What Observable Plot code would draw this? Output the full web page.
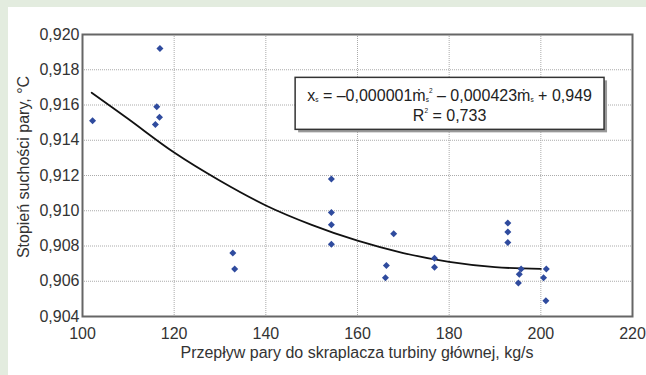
<!DOCTYPE html>
<html><head><meta charset="utf-8">
<script src="https://cdn.jsdelivr.net/npm/d3@7"></script>
<script src="https://cdn.jsdelivr.net/npm/@observablehq/plot@0.6"></script>
<style>
html,body{margin:0;padding:0;background:#e3ecdf;}
#wrap{position:absolute;left:8px;top:7px;width:638px;height:368px;background:#fff;}
svg text{font-family:"Liberation Sans",Arial,sans-serif;}
</style></head>
<body><div id="wrap"></div>
<script>
// Measured points
const flowX = [102.2,116.9,116.2,116.8,115.9,132.8,133.2,154.3,154.3,154.3,154.3,167.9,166.3,166.1,176.8,176.8,192.8,192.8,192.8,195.7,195.3,195.1,201.2,200.6,201.1];
const dryness = [0.9151,0.9192,0.9159,0.9153,0.9149,0.9076,0.9067,0.9118,0.9099,0.9092,0.9081,0.9087,0.9069,0.9062,0.9073,0.9068,0.9093,0.9088,0.9082,0.9067,0.9064,0.9059,0.9067,0.9062,0.9049];
// Trend curve
const trendX = [102,110,120,130,140,150,160,170,180,190,200];
const trendY = [0.9167,0.9152,0.9133,0.9117,0.9103,0.9092,0.9083,0.9076,0.9071,0.9068,0.9067];
const xTicks = [100,120,140,160,180,200,220];
const yTicks = [0.904,0.906,0.908,0.910,0.912,0.914,0.916,0.918,0.920];
// Annotation box extents (data units)
const boxX = [146.5, 213.9];
const boxY = [0.91459, 0.91754];
const eqLineY = [0.91640, 0.91530];

const pts = flowX.map((x,i)=>({x, y: dryness[i]}));
const trend = trendX.map((x,i)=>({x, y: trendY[i]}));
const fmt = v => d3.format(".3f")(v).replace(".", ",");

const plot = Plot.plot({
  width: 638, height: 368,
  marginLeft: 74, marginRight: 14, marginTop: 27, marginBottom: 59,
  style: {background: "#fff", fontSize: "16px", fontFamily: "Liberation Sans, Arial, sans-serif", color: "#333"},
  x: {domain: [100, 220], ticks: xTicks, label: null},
  y: {domain: [0.904, 0.920], ticks: yTicks, label: null},
  marks: [
    Plot.gridX(xTicks.slice(1,-1), {stroke: "#aaa", strokeOpacity: 1, strokeDasharray: "1,1"}),
    Plot.gridY(yTicks.slice(1,-1), {stroke: "#aaa", strokeOpacity: 1, strokeDasharray: "1,1"}),
    Plot.axisX({ticks: xTicks, tickSize: 0, tickPadding: 11, fill: "#333", fontSize: 16, label: null}),
    Plot.axisY({ticks: yTicks, tickSize: 0, tickPadding: 3, tickFormat: fmt, fill: "#333", fontSize: 16, label: null}),
    Plot.rect([{}], {x1: boxX[0], x2: boxX[1], y1: boxY[0], y2: boxY[1], fill: "#999", dx: 3, dy: 3}),
    Plot.line(trend, {x: "x", y: "y", curve: "catmull-rom", stroke: "#111", strokeWidth: 1.8}),
    Plot.dot(pts, {x: "x", y: "y", symbol: "square", rotate: 45, r: 2.8, fill: "#2f4b9e", stroke: "none"}),
    Plot.rect([{}], {x1: boxX[0], x2: boxX[1], y1: boxY[0], y2: boxY[1], fill: "#fff", stroke: "#333", strokeWidth: 1.5}),
    Plot.frame({stroke: "#666", strokeWidth: 2})
  ]
});
document.getElementById("wrap").appendChild(plot);

// Equation text with sub/superscripts, placed via plot scales
const sx = plot.scale("x"), sy = plot.scale("y");
const svg = d3.select(plot);
const cx = sx.apply((boxX[0]+boxX[1])/2);
const t1 = svg.append("text").attr("x", cx).attr("y", sy.apply(eqLineY[0])).attr("text-anchor","middle")
  .attr("dominant-baseline","middle").attr("font-size", 16).attr("fill","#222");
const parts = [["x",""],["s","sub"],[" = –0,000001ṁ",""],["s","sub"],["2","sup"],[" – 0,000423ṁ",""],["s","sub"],[" + 0,949",""]];
const off = {"":0, sub:3, sup:-6};
parts.forEach(([s,k],i)=>{
  const prev = i>0 ? parts[i-1][1] : "";
  const ts = t1.append("tspan").text(s).attr("dy", off[k]-off[prev]);
  if (k!=="") ts.attr("font-size", 6.5);
});
const t2 = svg.append("text").attr("x", cx).attr("y", sy.apply(eqLineY[1])).attr("text-anchor","middle")
  .attr("dominant-baseline","middle").attr("font-size", 16).attr("fill","#222");
t2.append("tspan").text("R");
t2.append("tspan").text("2").attr("font-size", 6.5).attr("dy", -6);
t2.append("tspan").text(" = 0,733").attr("dy", 6);

// Axis titles
svg.append("text").attr("x", (74+624)/2).attr("y", 347).attr("text-anchor","middle")
  .attr("dominant-baseline","middle").attr("font-size", 16).attr("fill","#333")
  .text("Przepływ pary do skraplacza turbiny głównej, kg/s");
svg.append("text").attr("transform", `translate(17,160) rotate(-90)`).attr("text-anchor","middle")
  .attr("dominant-baseline","middle").attr("font-size", 16).attr("fill","#333")
  .text("Stopień suchości pary, °C");
</script></body></html>
